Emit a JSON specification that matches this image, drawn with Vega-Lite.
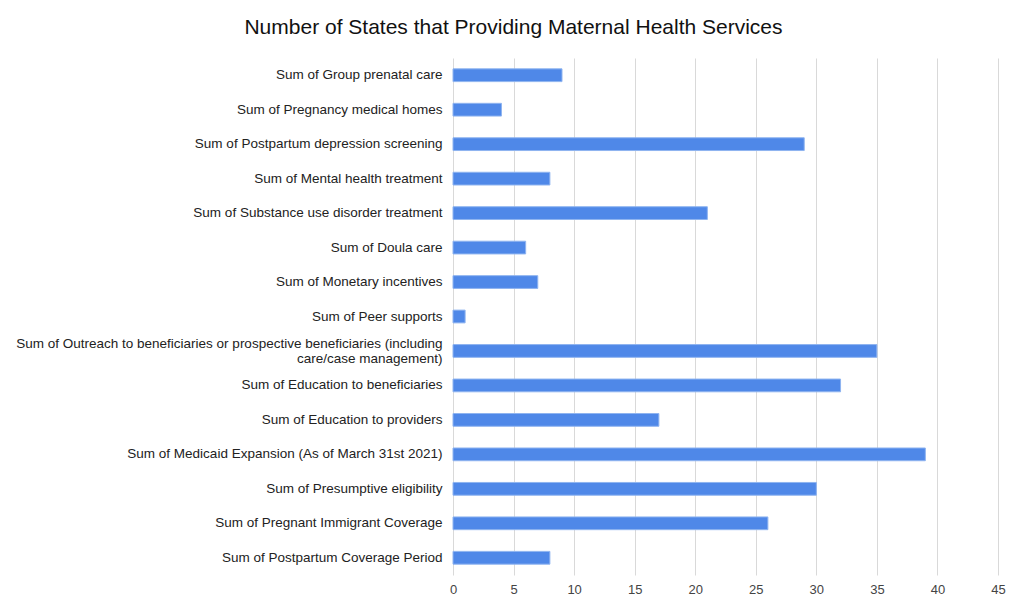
{
  "$schema": "https://vega.github.io/schema/vega-lite/v6.json",
  "autosize": {"type": "none"},
  "width": 545,
  "height": 517,
  "padding": {"left": 453, "top": 58, "right": 14, "bottom": 29},
  "background": "white",
  "title": {
    "text": "Number of States that Providing Maternal Health Services",
    "font": "Liberation Sans",
    "fontSize": 21,
    "fontWeight": "normal",
    "color": "#111111",
    "anchor": "middle",
    "frame": "group",
    "dx": -212,
    "offset": 20
  },
  "config": {
    "view": {"stroke": null},
    "font": "Liberation Sans"
  },
  "data": {
    "values": [
      {"service": "Sum of Group prenatal care", "count": 9},
      {"service": "Sum of Pregnancy medical homes", "count": 4},
      {"service": "Sum of Postpartum depression screening", "count": 29},
      {"service": "Sum of Mental health treatment", "count": 8},
      {"service": "Sum of Substance use disorder treatment", "count": 21},
      {"service": "Sum of Doula care", "count": 6},
      {"service": "Sum of Monetary incentives", "count": 7},
      {"service": "Sum of Peer supports", "count": 1},
      {"service": "Sum of Outreach to beneficiaries or prospective beneficiaries (including care/case management)", "count": 35},
      {"service": "Sum of Education to beneficiaries", "count": 32},
      {"service": "Sum of Education to providers", "count": 17},
      {"service": "Sum of Medicaid Expansion (As of March 31st 2021)", "count": 39},
      {"service": "Sum of Presumptive eligibility", "count": 30},
      {"service": "Sum of Pregnant Immigrant Coverage", "count": 26},
      {"service": "Sum of Postpartum Coverage Period", "count": 8}
    ]
  },
  "mark": {"type": "bar", "color": "#4f88e8", "stroke": "#8fb4f0", "strokeWidth": 1},
  "encoding": {
    "y": {
      "field": "service",
      "type": "nominal",
      "sort": null,
      "title": null,
      "scale": {"paddingInner": 0.63, "paddingOuter": 0.315},
      "axis": {
        "domain": false,
        "ticks": false,
        "grid": false,
        "labelPadding": 11,
        "labelFontSize": 13.5,
        "labelColor": "#222222",
        "labelLimit": 500,
        "labelLineHeight": 15,
        "labelOffset": {"condition": {"test": "test(/Outreach/, datum.label)", "value": -7}, "value": 0},
        "labelExpr": "test(/Outreach/, datum.label) ? ['Sum of Outreach to beneficiaries or prospective beneficiaries (including', 'care/case management)\u00a0\u00a0\u00a0\u00a0\u00a0\u00a0\u00a0\u00a0\u00a0\u00a0\u00a0\u00a0\u00a0\u00a0\u00a0\u00a0\u00a0\u00a0\u00a0\u00a0\u00a0\u00a0\u00a0\u00a0\u00a0\u00a0\u00a0\u00a0\u00a0\u00a0\u00a0\u00a0\u00a0\u00a0\u00a0\u00a0\u00a0\u00a0'] : datum.label"
      }
    },
    "x": {
      "field": "count",
      "type": "quantitative",
      "title": null,
      "scale": {"domain": [0, 45], "nice": false},
      "axis": {
        "values": [0, 5, 10, 15, 20, 25, 30, 35, 40, 45],
        "domain": false,
        "ticks": false,
        "grid": true,
        "gridColor": "#d9d9d9",
        "gridWidth": 1,
        "labelPadding": 8,
        "labelFontSize": 13,
        "labelColor": "#444444",
        "labelFlush": false
      }
    }
  }
}
